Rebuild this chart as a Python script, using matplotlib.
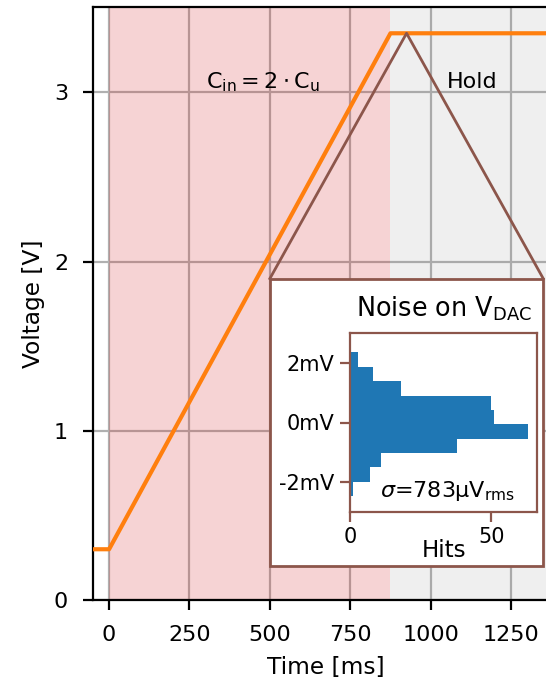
import matplotlib
matplotlib.use("Agg")
import matplotlib.pyplot as plt
from matplotlib.patches import Rectangle
import numpy as np

plt.rcParams['font.family'] = ['DejaVu Sans']
plt.rcParams['font.size'] = 8

# ---- data ----
time_ms = [-50, 0, 875, 1400]
voltage_v = [0.3, 0.3, 3.35, 3.35]
phase_spans = [(0, 875), (875, 1400)]
phase_labels = [r"$\mathrm{C_{in}} = 2\cdot\mathrm{C_u}$", "Hold"]
phase_label_x = [478, 1128]
x_ticks = [0, 250, 500, 750, 1000, 1250]
y_ticks = [0, 1, 2, 3]

hist_edges_mv = [-2.46, -1.98, -1.50, -1.02, -0.54, -0.06, 0.42, 0.90, 1.38, 1.87, 2.35]
hist_counts = [1, 7, 11, 38, 63, 51, 50, 18, 8, 3]
hist_yticks = [-2, 0, 2]
hist_yticklabels = ["-2mV", "0mV", "2mV"]
hist_xticks = [0, 50]

peak_point = (925, 3.35)
inset_box = (500, 0.2, 1350, 1.9)   # x0, y0, x1, y1 in data coords

BROWN = "#8c564b"

fig = plt.figure(figsize=(5.46 / 2, 6.81 / 2), dpi=200)
W, H = 546, 681
px_per_ms = 402 / 1250
left_px = 93
xlim = (-50, 1400)
width_px = (xlim[1] - xlim[0]) * px_per_ms
ax = fig.add_axes([left_px / W, (H - 600) / H, width_px / W, (600 - 7) / H])
ax.set_axisbelow(True)

ax.axvspan(*phase_spans[0], color="tab:red", alpha=0.2, lw=0)
ax.axvspan(*phase_spans[1], color="tab:gray", alpha=0.12, lw=0)
ax.grid(True)
ax.plot(time_ms, voltage_v, color="tab:orange", lw=1.5, zorder=3)

ax.set_xlim(*xlim)
ax.set_ylim(0, (600 - 7) / 169.17)
ax.set_xticks(x_ticks)
ax.set_yticks(y_ticks)
ax.tick_params(labelsize=8, pad=5.5)
ax.set_xlabel("Time [ms]", fontsize=8.4)
ax.set_ylabel("Voltage [V]", fontsize=8.4, labelpad=3)

ty = 3.06
for lbl, lx in zip(phase_labels, phase_label_x):
    ax.text(lx, ty, lbl, ha="center", va="center", fontsize=8)

bx0, by0, bx1, by1 = inset_box
ax.plot([bx0, peak_point[0], bx1], [by1, peak_point[1], by1], color=BROWN, lw=1.0, zorder=4)
ax.add_patch(Rectangle((bx0, by0), bx1 - bx0, by1 - by0, facecolor="white",
                       edgecolor=BROWN, lw=1.0, zorder=5))

# ---- inset histogram ----
iax = fig.add_axes([350 / W, (H - 512) / H, 187 / W, 179 / H], zorder=10)
edges = np.array(hist_edges_mv)
iax.barh(edges[:-1], hist_counts, height=np.diff(edges), align="edge",
         color="tab:blue", lw=0)
iax.set_ylim(-3, 3)
iax.set_yticks(hist_yticks)
iax.set_yticklabels(hist_yticklabels)
iax.set_xticks(hist_xticks)
for s in iax.spines.values():
    s.set_color(BROWN)
iax.tick_params(colors=BROWN, labelcolor="black", labelsize=7.5, pad=2)
iax.set_title(r"Noise on V$_\mathrm{DAC}$", fontsize=9.2)
iax.set_xlabel("Hits", fontsize=8.3, labelpad=-3)
iax.text(0.52, 0.05, r"$\sigma$=783µV$_\mathrm{rms}$", transform=iax.transAxes,
         ha="center", va="bottom", fontsize=8)

fig.savefig("out.png", dpi=200)
